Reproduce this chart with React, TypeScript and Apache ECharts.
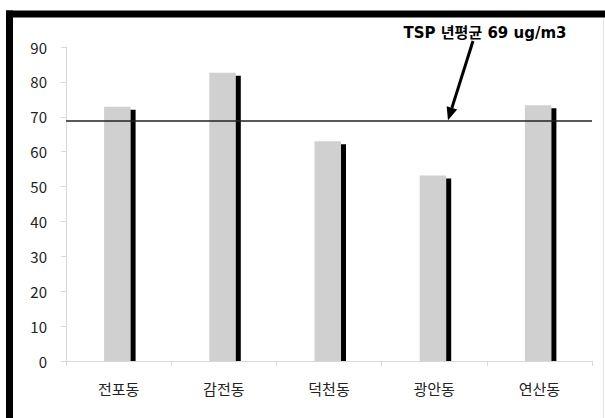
import React, { useEffect, useRef } from "react";
import * as echarts from "echarts";

// 측정 지점별 TSP 농도 (ug/m3)
const categories = ["전포동", "감전동", "덕천동", "광안동", "연산동"];
const tspValues = [72.9, 82.6, 63.0, 53.2, 73.3];
const annualAverage = 69;
const averageLabel = "TSP 년평균 69 ug/m3";
const yTicks = { min: 0, max: 90, interval: 10 };

const FONT = "'Noto Sans CJK KR', 'Noto Sans', sans-serif";
const NOTE_FONT = "'DejaVu Sans', 'Noto Sans CJK KR', sans-serif";

export default function App() {
  const ref = useRef<HTMLDivElement>(null);

  useEffect(() => {
    if (!ref.current) return;
    const chart = echarts.init(ref.current, undefined, { renderer: "svg" });

    const option: any = {
      animation: false,
      backgroundColor: "#ffffff",
      grid: { left: 66, right: 13, top: 47, bottom: 57 },
      xAxis: {
        type: "category",
        data: categories,
        axisLine: { show: true, lineStyle: { color: "#d9d9d9", width: 1 } },
        axisTick: { show: true, length: 5, lineStyle: { color: "#d9d9d9" } },
        axisLabel: { fontFamily: FONT, fontSize: 15, color: "#222", margin: 20 },
        splitLine: { show: false },
      },
      yAxis: {
        type: "value",
        min: yTicks.min,
        max: yTicks.max,
        interval: yTicks.interval,
        axisLine: { show: true, lineStyle: { color: "#d9d9d9", width: 1 } },
        axisTick: { show: true, length: 5, lineStyle: { color: "#d9d9d9" } },
        axisLabel: { fontFamily: FONT, fontSize: 15, color: "#222", margin: 19 },
        splitLine: { show: false },
      },
      series: [
        {
          type: "custom",
          data: tspValues.map((v, i) => [i, v]),
          encode: { x: 0, y: 1 },
          renderItem: (params: any, api: any) => {
            const idx = api.value(0);
            const v = api.value(1);
            const top = api.coord([idx, v]);
            const base = api.coord([idx, 0]);
            const cx = top[0];
            return {
              type: "group",
              children: [
                {
                  type: "rect",
                  shape: { x: cx - 14.5, y: top[1], width: 26.5, height: base[1] - top[1] },
                  style: { fill: "#d0d0d0" },
                },
                {
                  type: "rect",
                  shape: { x: cx + 12, y: top[1] + 3, width: 5, height: base[1] - top[1] - 3 },
                  style: { fill: "#000000" },
                },
              ],
            };
          },
          markLine: {
            silent: true,
            symbol: ["none", "none"],
            label: { show: false },
            lineStyle: { color: "#222", width: 1.5, type: "solid" },
            data: [{ yAxis: annualAverage }],
          },
        },
      ],
    };
    chart.setOption(option);

    // 평균선을 가리키는 화살표와 설명 문구
    const tipY = chart.convertToPixel({ yAxisIndex: 0 }, annualAverage) as number;
    const start = [473, 41];
    const tip = [448, tipY];
    const dx = tip[0] - start[0];
    const dy = tip[1] - start[1];
    const len = Math.sqrt(dx * dx + dy * dy);
    const ux = dx / len;
    const uy = dy / len;
    const headLen = 13;
    const headHalf = 5.5;
    const bx = tip[0] - ux * headLen;
    const by = tip[1] - uy * headLen;
    const px = -uy * headHalf;
    const py = ux * headHalf;

    chart.setOption({
      graphic: [
        // 오른쪽 여백
        {
          type: "rect",
          shape: { x: 596, y: 18, width: 12, height: 410 },
          style: { fill: "#ffffff" },
          z: 150,
        },
        {
          type: "line",
          shape: { x1: 603.5, y1: 18, x2: 603.5, y2: 418 },
          style: { stroke: "#e4e4e4", lineWidth: 1 },
          z: 160,
        },
        // 바깥 테두리 (위, 왼쪽)
        {
          type: "line",
          shape: { x1: 6, y1: 14, x2: 605, y2: 14 },
          style: { stroke: "#000", lineWidth: 7 },
          z: 100,
        },
        {
          type: "line",
          shape: { x1: 9.5, y1: 10.5, x2: 9.5, y2: 418 },
          style: { stroke: "#000", lineWidth: 7 },
          z: 100,
        },
        {
          type: "text",
          x: 485,
          y: 33,
          style: {
            text: averageLabel,
            font: `bold 15px ${NOTE_FONT}`,
            fill: "#000",
            textAlign: "center",
            textVerticalAlign: "middle",
          },
        },
        {
          type: "line",
          shape: { x1: start[0], y1: start[1], x2: bx, y2: by },
          style: { stroke: "#000", lineWidth: 3 },
        },
        {
          type: "polygon",
          shape: {
            points: [
              [tip[0], tip[1]],
              [bx + px, by + py],
              [bx - px, by - py],
            ],
          },
          style: { fill: "#000" },
        },
      ],
    });

    return () => chart.dispose();
  }, []);

  return (
    <div
      style={{
        position: "fixed",
        left: 0,
        top: 0,
        width: 605,
        height: 418,
        background: "#fff",
        overflow: "hidden",
      }}
    >
      <div ref={ref} style={{ width: 605, height: 418 }} />
    </div>
  );
}
